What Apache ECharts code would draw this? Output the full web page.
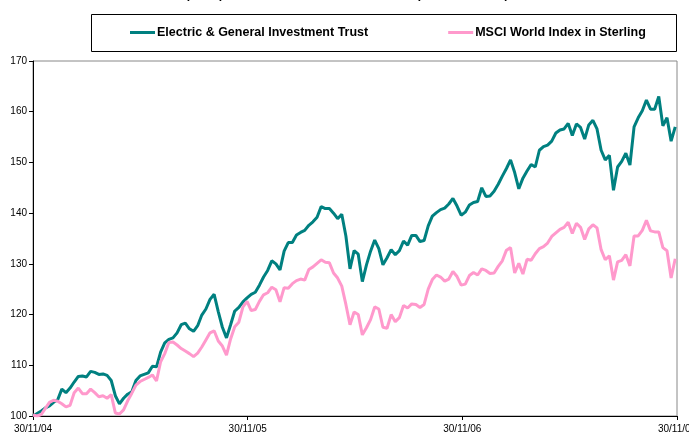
<!DOCTYPE html>
<html>
<head>
<meta charset="utf-8">
<script src="https://cdn.jsdelivr.net/npm/echarts@6/dist/echarts.min.js"></script>
<style>
  html, body { margin: 0; padding: 0; background: #fff; }
  #chart { width: 689px; height: 435px; }
</style>
</head>
<body>
<div id="chart"></div>
<script>
// weekly closes, rebased to 100 at 30/11/04
var trustValues = [
  100.0, 100.5, 101.0, 101.6, 102.0, 102.7, 103.2, 105.3, 104.6, 105.5,
  106.7, 107.8, 107.9, 107.7, 108.8, 108.6, 108.2, 108.3, 108.0, 107.0,
  104.0, 102.4, 103.5, 104.3, 104.8, 107.0, 107.9, 108.2, 108.5, 109.8,
  109.7, 112.6, 114.4, 115.1, 115.4, 116.4, 118.0, 118.3, 117.2, 116.7,
  117.8, 119.9, 121.1, 123.0, 124.0, 120.6, 117.5, 115.4, 118.0, 120.7,
  121.4, 122.5, 123.3, 124.0, 124.4, 125.8, 127.4, 128.7, 130.6, 130.0,
  128.8, 132.5, 134.2, 134.2, 135.7, 136.2, 136.6, 137.6, 138.3, 139.2,
  141.3, 140.9, 140.9, 140.0, 138.9, 139.8, 135.5, 129.0, 132.6, 131.9,
  126.5, 129.8, 132.5, 134.7, 133.0, 129.8, 131.2, 132.8, 131.8, 132.6,
  134.5, 133.7, 135.6, 135.6, 134.4, 134.6, 137.5, 139.4, 140.1, 140.7,
  141.0, 141.8, 142.9, 141.4, 139.6, 140.2, 141.6, 142.1, 142.3, 145.0,
  143.3, 143.4, 144.3, 145.7, 147.3, 148.8, 150.5, 148.0, 144.8, 146.9,
  148.3, 149.6, 149.1, 152.4, 153.1, 153.4, 154.2, 155.8, 156.4, 156.6,
  157.7, 155.3, 157.6, 156.9, 154.6, 157.4, 158.3, 156.6, 152.4, 150.5,
  151.4, 144.5, 149.1, 150.2, 151.8, 149.5, 157.0, 158.8, 160.2, 162.3,
  160.5, 160.5, 163.0, 157.2, 158.8, 154.2, 157.0
];
var msciValues = [
  100.2, 100.0, 100.3, 101.5, 102.7, 103.1, 102.9, 102.4, 101.8, 102.1,
  104.6, 105.5, 104.4, 104.4, 105.3, 104.6, 103.8, 104.0, 103.5, 104.2,
  100.6, 100.4, 101.2, 103.0, 104.5, 106.1, 106.8, 107.2, 107.6, 108.1,
  106.9, 110.7, 112.3, 114.5, 114.6, 114.0, 113.3, 112.8, 112.3, 111.7,
  112.4, 113.6, 115.0, 116.4, 116.8, 114.8, 113.8, 112.0, 115.2, 117.6,
  118.5, 121.5, 122.6, 120.8, 121.0, 122.6, 123.9, 124.3, 125.4, 124.9,
  122.5, 125.3, 125.2, 126.1, 126.7, 127.0, 126.8, 128.9, 129.4, 130.1,
  130.8, 130.3, 130.2, 128.2, 127.2, 125.6, 122.0, 118.0, 120.5, 120.0,
  116.0, 117.4, 119.0, 121.5, 121.1, 117.5, 117.3, 120.0, 118.6, 119.4,
  121.8, 121.3, 122.1, 122.0, 121.4, 122.0, 125.0, 126.9, 127.8, 127.4,
  126.6, 127.0, 128.5, 127.5, 125.8, 126.0, 127.7, 128.3, 127.8, 129.0,
  128.7, 128.1, 128.2, 129.5, 130.6, 132.7, 133.2, 128.2, 130.1, 128.0,
  130.9, 130.7, 132.0, 133.0, 133.4, 134.1, 135.4, 136.1, 136.8, 137.2,
  138.2, 136.0, 138.0, 137.2, 134.8, 136.9, 137.7, 137.1, 132.8, 130.8,
  131.6, 126.8, 130.4, 130.7, 131.8, 129.6, 135.5, 135.5, 136.6, 138.6,
  136.5, 136.3, 136.3, 133.2, 132.6, 127.2, 131.0
];
var seriesNames = ['Electric & General Investment Trust', 'MSCI World Index in Sterling'];
var xTickLabels = ['30/11/04', '30/11/05', '30/11/06', '30/11/07'];
var yTicks = { min: 100, max: 170, step: 10 };
var daysPerYear = 365;
var daysPerPoint = 7;

function toPoints(values) {
    return values.map(function (v, i) { return [i * daysPerPoint, v]; });
}

var myChart = echarts.init(document.getElementById('chart'), null, { renderer: 'canvas' });
var font = '"Liberation Sans", Arial, sans-serif';

var option = {
    animation: false,
    backgroundColor: '#fff',
    title: {
        text: 'Share price performance vs MSCI World Index (rebased to 100) 2004 - 2007',
        left: 150,
        top: -11,
        padding: 0,
        textStyle: { fontFamily: font, fontSize: 12, fontWeight: 'bold', color: '#000' }
    },
    graphic: [{
        type: 'rect',
        shape: { x: 91.5, y: 14.5, width: 585, height: 37 },
        style: { fill: '#fff', stroke: '#000', lineWidth: 1 },
        z: 0
    }],
    legend: {
        left: 130,
        top: 26,
        padding: 0,
        itemGap: 80,
        itemWidth: 25,
        itemHeight: 3,
        icon: 'rect',
        textStyle: { fontFamily: font, fontSize: 12.5, fontWeight: 'bold', color: '#000', padding: [0, 0, 0, -3] },
        data: seriesNames,
        z: 5
    },
    grid: {
        left: 33,
        right: 12,
        top: 61,
        bottom: 19,
        containLabel: false,
        outerBoundsMode: 'none',
        show: true,
        borderColor: '#888',
        borderWidth: 1,
        backgroundColor: 'transparent'
    },
    xAxis: {
        type: 'value',
        min: 0,
        max: daysPerYear * 3,
        interval: daysPerYear,
        splitLine: { show: false },
        axisLine: { lineStyle: { color: '#000', width: 1 } },
        axisTick: { show: true, length: 4, lineStyle: { color: '#000' } },
        axisLabel: {
            showMaxLabel: true,
            showMinLabel: true,
            hideOverlap: false,
            alignMinLabel: 'center',
            alignMaxLabel: 'center',
            margin: 8,
            fontFamily: font,
            fontSize: 10,
            color: '#000',
            formatter: function (value) {
                return xTickLabels[Math.round(value / daysPerYear)];
            }
        }
    },
    yAxis: {
        type: 'value',
        min: yTicks.min,
        max: yTicks.max,
        interval: yTicks.step,
        splitLine: { show: false },
        axisLine: { show: true, lineStyle: { color: '#000', width: 1 } },
        axisTick: { show: true, length: 4, lineStyle: { color: '#000' } },
        axisLabel: { margin: 6, fontFamily: font, fontSize: 10, color: '#000' }
    },
    series: [
        {
            name: seriesNames[0],
            type: 'line',
            data: toPoints(trustValues),
            showSymbol: false,
            symbol: 'none',
            itemStyle: { color: '#008080' },
            lineStyle: { width: 3, color: '#008080' },
            z: 2
        },
        {
            name: seriesNames[1],
            type: 'line',
            data: toPoints(msciValues),
            showSymbol: false,
            symbol: 'none',
            itemStyle: { color: '#ff99cc' },
            lineStyle: { width: 3, color: '#ff99cc' },
            z: 3
        }
    ]
};
myChart.setOption(option);
</script>
</body>
</html>
